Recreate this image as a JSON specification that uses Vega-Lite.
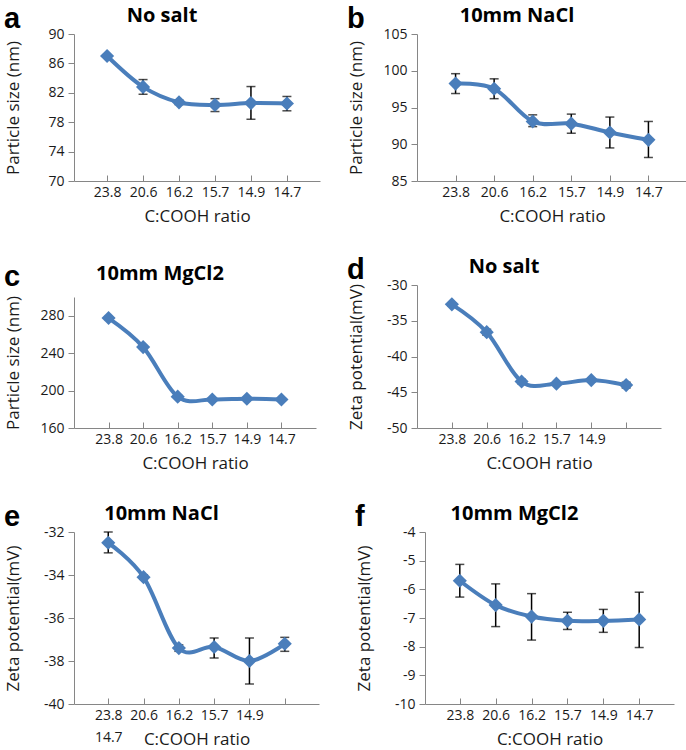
{
  "$schema": "https://vega.github.io/schema/vega-lite/v6.json",
  "padding": {"left": 3, "top": 5, "right": 4, "bottom": 2},
  "background": "white",
  "config": {
    "font": "Open Sans",
    "view": {"stroke": null},
    "axis": {"domainColor": "#868686", "tickColor": "#868686", "grid": false, "labelFont": "Open Sans", "labelFontSize": 14, "labelColor": "#1a1a1a", "titleFont": "Open Sans", "titleFontSize": 17, "titleFontWeight": "normal", "titleColor": "#1a1a1a"},
    "axisX": {"labelAngle": 0, "tickSize": -6, "labelPadding": 10, "titleY": 40, "titleBaseline": "alphabetic"},
    "axisY": {"tickSize": 6, "labelPadding": 4, "titleX": -52, "labelExpr": "'' + datum.value"}
  },
  "datasets": {
    "a": [
      {"ratio": "23.8", "v": 87.0, "lo": 86.9, "hi": 87.1},
      {"ratio": "20.6", "v": 82.8, "lo": 81.8, "hi": 83.8},
      {"ratio": "16.2", "v": 80.7, "lo": 80.4, "hi": 81.0},
      {"ratio": "15.7", "v": 80.35, "lo": 79.45, "hi": 81.2},
      {"ratio": "14.9", "v": 80.6, "lo": 78.4, "hi": 82.85},
      {"ratio": "14.7", "v": 80.55, "lo": 79.55, "hi": 81.5}
    ],
    "b": [
      {"ratio": "23.8", "v": 98.25, "lo": 96.9, "hi": 99.6},
      {"ratio": "20.6", "v": 97.55, "lo": 96.2, "hi": 98.9},
      {"ratio": "16.2", "v": 93.1, "lo": 92.4, "hi": 94.0},
      {"ratio": "15.7", "v": 92.8, "lo": 91.5, "hi": 94.1},
      {"ratio": "14.9", "v": 91.6, "lo": 89.5, "hi": 93.7},
      {"ratio": "14.7", "v": 90.6, "lo": 88.2, "hi": 93.1}
    ],
    "c": [
      {"ratio": "23.8", "v": 277.5, "lo": 276, "hi": 279},
      {"ratio": "20.6", "v": 246.5, "lo": 245, "hi": 248},
      {"ratio": "16.2", "v": 193.5, "lo": 192, "hi": 195},
      {"ratio": "15.7", "v": 190.5, "lo": 189.5, "hi": 191.5},
      {"ratio": "14.9", "v": 191.3, "lo": 190.3, "hi": 192.3},
      {"ratio": "14.7", "v": 190.5, "lo": 189.5, "hi": 191.5}
    ],
    "d": [
      {"ratio": "23.8", "v": -32.7, "lo": -32.9, "hi": -32.5},
      {"ratio": "20.6", "v": -36.6, "lo": -37.0, "hi": -36.2},
      {"ratio": "16.2", "v": -43.5, "lo": -43.8, "hi": -43.2},
      {"ratio": "15.7", "v": -43.8, "lo": -44.0, "hi": -43.6},
      {"ratio": "14.9", "v": -43.3, "lo": -43.5, "hi": -43.1},
      {"ratio": "14.7", "v": -44.0, "lo": -44.4, "hi": -43.6}
    ],
    "e": [
      {"ratio": "23.8", "v": -32.5, "lo": -32.97, "hi": -32.0},
      {"ratio": "20.6", "v": -34.1, "lo": -34.2, "hi": -34.0},
      {"ratio": "16.2", "v": -37.4, "lo": -37.55, "hi": -37.25},
      {"ratio": "15.7", "v": -37.35, "lo": -37.86, "hi": -36.93},
      {"ratio": "14.9", "v": -38.0, "lo": -39.07, "hi": -36.93},
      {"ratio": "14.7", "v": -37.2, "lo": -37.55, "hi": -36.9}
    ],
    "f": [
      {"ratio": "23.8", "v": -5.7, "lo": -6.27, "hi": -5.13},
      {"ratio": "20.6", "v": -6.55, "lo": -7.3, "hi": -5.81},
      {"ratio": "16.2", "v": -6.95, "lo": -7.77, "hi": -6.15},
      {"ratio": "15.7", "v": -7.1, "lo": -7.4, "hi": -6.8},
      {"ratio": "14.9", "v": -7.1, "lo": -7.5, "hi": -6.7},
      {"ratio": "14.7", "v": -7.05, "lo": -8.03, "hi": -6.1}
    ]
  },
  "spacing": 32,
  "vconcat": [
    {
      "spacing": 27,
      "hconcat": [
        {
          "title": {"text": "a", "anchor": "start", "font": "Liberation Sans", "fontSize": 29, "fontWeight": "bold", "color": "black", "offset": 0, "dy": 28},
          "vconcat": [{
            "title": {"text": "No salt", "anchor": "middle", "frame": "bounds", "font": "Open Sans", "fontSize": 20, "fontWeight": "bold", "color": "black", "offset": 1},
            "width": 246, "height": 147,
            "data": {"name": "a"},
            "encoding": {"x": {"field": "ratio", "type": "ordinal", "sort": null, "scale": {"type": "point", "padding": 0.92}, "axis": {"title": "C:COOH ratio"}}},
            "layer": [
              {"mark": {"type": "errorbar", "color": "black", "thickness": 1.5, "ticks": {"size": 9, "thickness": 1.5, "color": "black"}},
               "encoding": {"y": {"field": "lo", "type": "quantitative", "scale": {"domain": [70, 90], "nice": false}, "axis": {"title": "Particle size (nm)", "values": [70, 74, 78, 82, 86, 90]}}, "y2": {"field": "hi"}}},
              {"mark": {"type": "line", "interpolate": "cardinal", "strokeWidth": 4, "color": "#4A7EBB"},
               "encoding": {"y": {"field": "v", "type": "quantitative", "scale": {"domain": [70, 90], "nice": false}, "axis": {"title": "Particle size (nm)", "values": [70, 74, 78, 82, 86, 90]}}}},
              {"mark": {"type": "point", "shape": "diamond", "filled": true, "size": 200, "color": "#4A7EBB", "opacity": 1},
               "encoding": {"y": {"field": "v", "type": "quantitative", "scale": {"domain": [70, 90], "nice": false}, "axis": {"title": "Particle size (nm)", "values": [70, 74, 78, 82, 86, 90]}}}}
            ]
          }]
        },
        {
          "title": {"text": "b", "anchor": "start", "font": "Liberation Sans", "fontSize": 29, "fontWeight": "bold", "color": "black", "offset": 0, "dy": 28},
          "vconcat": [{
            "title": {"text": "10mm NaCl", "anchor": "middle", "frame": "bounds", "font": "Open Sans", "fontSize": 20, "fontWeight": "bold", "color": "black", "offset": 1},
            "width": 270, "height": 147,
            "data": {"name": "b"},
            "encoding": {"x": {"field": "ratio", "type": "ordinal", "sort": null, "scale": {"type": "point", "padding": 1.05}, "axis": {"title": "C:COOH ratio"}}},
            "layer": [
              {"mark": {"type": "errorbar", "color": "black", "thickness": 1.5, "ticks": {"size": 9, "thickness": 1.5, "color": "black"}},
               "encoding": {"y": {"field": "lo", "type": "quantitative", "scale": {"domain": [85, 105], "nice": false}, "axis": {"title": "Particle size (nm)", "values": [85, 90, 95, 100, 105]}}, "y2": {"field": "hi"}}},
              {"mark": {"type": "line", "interpolate": "cardinal", "strokeWidth": 4, "color": "#4A7EBB"},
               "encoding": {"y": {"field": "v", "type": "quantitative", "scale": {"domain": [85, 105], "nice": false}, "axis": {"title": "Particle size (nm)", "values": [85, 90, 95, 100, 105]}}}},
              {"mark": {"type": "point", "shape": "diamond", "filled": true, "size": 200, "color": "#4A7EBB", "opacity": 1},
               "encoding": {"y": {"field": "v", "type": "quantitative", "scale": {"domain": [85, 105], "nice": false}, "axis": {"title": "Particle size (nm)", "values": [85, 90, 95, 100, 105]}}}}
            ]
          }]
        }
      ]
    },
    {
      "spacing": 31,
      "hconcat": [
        {
          "title": {"text": "c", "anchor": "start", "font": "Liberation Sans", "fontSize": 29, "fontWeight": "bold", "color": "black", "offset": 0, "dy": 28},
          "vconcat": [{
            "title": {"text": "10mm MgCl2", "anchor": "middle", "frame": "bounds", "font": "Open Sans", "fontSize": 20, "fontWeight": "bold", "color": "black", "offset": 1},
            "width": 242, "height": 143,
            "data": {"name": "c"},
            "encoding": {"x": {"field": "ratio", "type": "ordinal", "sort": null, "scale": {"type": "point", "padding": 1.0}, "axis": {"title": "C:COOH ratio"}}},
            "layer": [
              {"mark": {"type": "errorbar", "color": "black", "thickness": 1.5, "ticks": {"size": 9, "thickness": 1.5, "color": "black"}},
               "encoding": {"y": {"field": "lo", "type": "quantitative", "scale": {"domain": [160, 300], "nice": false, "range": [143, 12]}, "axis": {"title": "Particle size (nm)", "values": [160, 200, 240, 280]}}, "y2": {"field": "hi"}}},
              {"mark": {"type": "line", "interpolate": "cardinal", "strokeWidth": 4, "color": "#4A7EBB"},
               "encoding": {"y": {"field": "v", "type": "quantitative", "scale": {"domain": [160, 300], "nice": false, "range": [143, 12]}, "axis": {"title": "Particle size (nm)", "values": [160, 200, 240, 280]}}}},
              {"mark": {"type": "point", "shape": "diamond", "filled": true, "size": 200, "color": "#4A7EBB", "opacity": 1},
               "encoding": {"y": {"field": "v", "type": "quantitative", "scale": {"domain": [160, 300], "nice": false, "range": [143, 12]}, "axis": {"title": "Particle size (nm)", "values": [160, 200, 240, 280]}}}}
            ]
          }]
        },
        {
          "title": {"text": "d", "anchor": "start", "font": "Liberation Sans", "fontSize": 29, "fontWeight": "bold", "color": "black", "offset": 0, "dy": 28},
          "vconcat": [{
            "title": {"text": "No salt", "anchor": "middle", "frame": "bounds", "font": "Open Sans", "fontSize": 20, "fontWeight": "bold", "color": "black", "offset": 1},
            "width": 244, "height": 143,
            "data": {"name": "d"},
            "encoding": {"x": {"field": "ratio", "type": "ordinal", "sort": null, "scale": {"type": "point", "padding": 1.06}, "axis": {"title": "C:COOH ratio", "labelExpr": "datum.value == '14.7' ? '' : datum.label"}}},
            "layer": [
              {"mark": {"type": "errorbar", "color": "black", "thickness": 1.5, "ticks": {"size": 9, "thickness": 1.5, "color": "black"}},
               "encoding": {"y": {"field": "lo", "type": "quantitative", "scale": {"domain": [-50, -30], "nice": false}, "axis": {"title": "Zeta potential(mV)", "values": [-50, -45, -40, -35, -30]}}, "y2": {"field": "hi"}}},
              {"mark": {"type": "line", "interpolate": "cardinal", "strokeWidth": 4, "color": "#4A7EBB"},
               "encoding": {"y": {"field": "v", "type": "quantitative", "scale": {"domain": [-50, -30], "nice": false}, "axis": {"title": "Zeta potential(mV)", "values": [-50, -45, -40, -35, -30]}}}},
              {"mark": {"type": "point", "shape": "diamond", "filled": true, "size": 200, "color": "#4A7EBB", "opacity": 1},
               "encoding": {"y": {"field": "v", "type": "quantitative", "scale": {"domain": [-50, -30], "nice": false}, "axis": {"title": "Zeta potential(mV)", "values": [-50, -45, -40, -35, -30]}}}}
            ]
          }]
        }
      ]
    },
    {
      "spacing": 35,
      "hconcat": [
        {
          "title": {"text": "e", "anchor": "start", "font": "Liberation Sans", "fontSize": 29, "fontWeight": "bold", "color": "black", "offset": 0, "dy": 28},
          "vconcat": [{
            "title": {"text": "10mm NaCl", "anchor": "middle", "frame": "bounds", "font": "Open Sans", "fontSize": 20, "fontWeight": "bold", "color": "black", "offset": 1},
            "width": 245, "height": 172,
            "data": {"name": "e"},
            "encoding": {"x": {"field": "ratio", "type": "ordinal", "sort": null, "scale": {"type": "point", "padding": 0.97}, "axis": {"title": "C:COOH ratio", "labelLineHeight": 22, "labelExpr": "datum.value == '23.8' ? ['23.8', '14.7'] : (datum.value == '14.7' ? '' : datum.label)"}}},
            "layer": [
              {"mark": {"type": "errorbar", "color": "black", "thickness": 1.5, "ticks": {"size": 9, "thickness": 1.5, "color": "black"}},
               "encoding": {"y": {"field": "lo", "type": "quantitative", "scale": {"domain": [-40, -32], "nice": false}, "axis": {"title": "Zeta potential(mV)", "values": [-40, -38, -36, -34, -32]}}, "y2": {"field": "hi"}}},
              {"mark": {"type": "line", "interpolate": "cardinal", "strokeWidth": 4, "color": "#4A7EBB"},
               "encoding": {"y": {"field": "v", "type": "quantitative", "scale": {"domain": [-40, -32], "nice": false}, "axis": {"title": "Zeta potential(mV)", "values": [-40, -38, -36, -34, -32]}}}},
              {"mark": {"type": "point", "shape": "diamond", "filled": true, "size": 200, "color": "#4A7EBB", "opacity": 1},
               "encoding": {"y": {"field": "v", "type": "quantitative", "scale": {"domain": [-40, -32], "nice": false}, "axis": {"title": "Zeta potential(mV)", "values": [-40, -38, -36, -34, -32]}}}}
            ]
          }]
        },
        {
          "title": {"text": "f", "anchor": "start", "font": "Liberation Sans", "fontSize": 29, "fontWeight": "bold", "color": "black", "offset": 0, "dy": 28},
          "vconcat": [{
            "title": {"text": "10mm MgCl2", "anchor": "middle", "frame": "bounds", "font": "Open Sans", "fontSize": 20, "fontWeight": "bold", "color": "black", "offset": 1},
            "width": 249, "height": 172,
            "data": {"name": "f"},
            "encoding": {"x": {"field": "ratio", "type": "ordinal", "sort": null, "scale": {"type": "point", "padding": 0.97}, "axis": {"title": "C:COOH ratio"}}},
            "layer": [
              {"mark": {"type": "errorbar", "color": "black", "thickness": 1.5, "ticks": {"size": 9, "thickness": 1.5, "color": "black"}},
               "encoding": {"y": {"field": "lo", "type": "quantitative", "scale": {"domain": [-10, -4], "nice": false}, "axis": {"title": "Zeta potential(mV)", "values": [-10, -9, -8, -7, -6, -5, -4]}}, "y2": {"field": "hi"}}},
              {"mark": {"type": "line", "interpolate": "cardinal", "strokeWidth": 4, "color": "#4A7EBB"},
               "encoding": {"y": {"field": "v", "type": "quantitative", "scale": {"domain": [-10, -4], "nice": false}, "axis": {"title": "Zeta potential(mV)", "values": [-10, -9, -8, -7, -6, -5, -4]}}}},
              {"mark": {"type": "point", "shape": "diamond", "filled": true, "size": 200, "color": "#4A7EBB", "opacity": 1},
               "encoding": {"y": {"field": "v", "type": "quantitative", "scale": {"domain": [-10, -4], "nice": false}, "axis": {"title": "Zeta potential(mV)", "values": [-10, -9, -8, -7, -6, -5, -4]}}}}
            ]
          }]
        }
      ]
    }
  ]
}
